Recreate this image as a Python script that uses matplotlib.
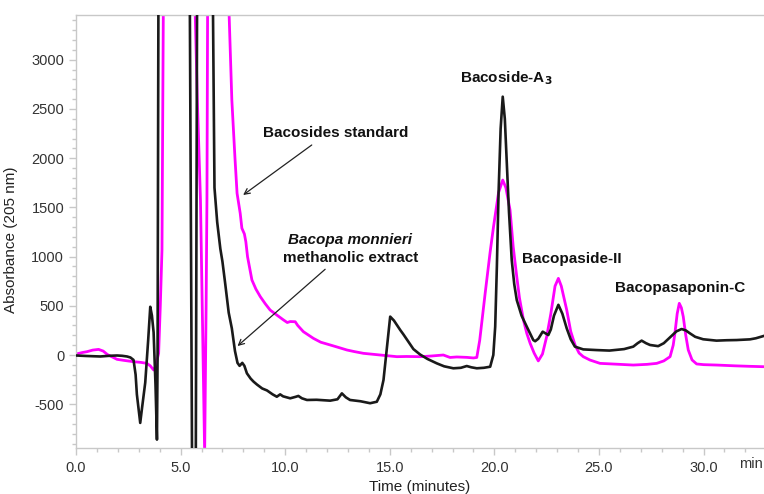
import matplotlib
matplotlib.use("Agg")
import matplotlib.pyplot as plt
from matplotlib.ticker import MultipleLocator, FormatStrFormatter

plt.rcParams['font.family'] = ['Liberation Sans', 'DejaVu Sans']
plt.rcParams['axes.unicode_minus'] = False

# Bacopa monnieri methanolic extract (black)
extract_t = [0.0, 0.5, 1.16, 1.6, 1.96, 2.2, 2.44, 2.6, 2.75, 2.85, 2.91, 3.0, 3.07, 3.15,
             3.31, 3.45, 3.55, 3.63, 3.71, 3.80, 3.87, 3.90, 3.95, 5.42, 5.56, 5.72, 5.80,
             6.50, 6.55, 6.62, 6.75, 6.9, 7.0, 7.13, 7.3, 7.45, 7.6, 7.72, 7.82, 7.95, 8.05,
             8.17, 8.35, 8.49, 8.65, 8.9, 9.13, 9.4, 9.6, 9.76, 9.9, 10.24, 10.5, 10.63, 10.8,
             11.04, 11.5, 12.15, 12.5, 12.71, 12.9, 13.1, 13.6, 14.06, 14.38, 14.55, 14.7,
             14.85, 15.02, 15.2, 15.5, 15.65, 16.13, 16.45, 16.8, 17.25, 17.6, 18.04, 18.4,
             18.68, 18.9, 19.16, 19.5, 19.8, 19.95, 20.04, 20.12, 20.2, 20.3, 20.4, 20.5,
             20.59, 20.7, 20.83, 20.95, 21.07, 21.3, 21.55, 21.86, 21.95, 22.1, 22.31, 22.45,
             22.58, 22.7, 22.85, 23.06, 23.25, 23.46, 23.65, 23.85, 24.25, 24.9, 25.5, 26.2,
             26.64, 26.85, 27.04, 27.25, 27.44, 27.83, 28.1, 28.4, 28.7, 28.95, 29.15, 29.35,
             29.6, 29.98, 30.62, 31.1, 31.58, 32.22, 32.5, 32.9]
extract_v = [-5, -10, -15, -8, -5, -8, -15, -25, -50, -200, -400, -560, -690, -550,
             -280, 150, 490, 400, 230, -300, -860, 0, 4500, 4500, -1600, -1600, 4500,
             4500, 3455, 1700, 1350, 1080, 950, 730, 430, 270, 40, -80, -110, -80, -110,
             -186, -240, -271, -300, -340, -360, -400, -424, -400, -420, -440, -425, -416, -440,
             -457, -455, -464, -450, -390, -430, -457, -470, -490, -475, -400, -254,
             50, 390, 350, 254, 210, 60, 5, -40, -85, -115, -135, -130,
             -112, -125, -135, -130, -119, 0, 288, 900, 1643, 2300, 2625, 2400,
             1982, 1450, 965, 720, 559, 400, 288, 152, 140, 165, 237, 220,
             203, 260, 400, 510, 420, 270, 160, 85, 57, 50, 45, 60,
             85, 120, 146, 120, 102, 90, 120, 180, 240, 264, 250, 220,
             185, 160, 146, 150, 152, 159, 170, 195]

# Bacosides standard (magenta)
standard_t = [0.0, 0.3, 0.53, 0.8, 1.08, 1.3, 1.5, 1.64, 1.96, 2.3, 2.75, 3.1, 3.39, 3.55,
              3.71, 3.8, 3.95, 4.03, 4.11, 4.2, 5.65, 5.70, 5.80, 5.95, 6.05, 6.15, 6.22,
              6.26, 6.29, 6.35, 7.25, 7.32, 7.45, 7.6, 7.7, 7.85, 7.93, 8.05, 8.12, 8.2,
              8.41, 8.6, 8.81, 9.05, 9.28, 9.6, 9.92, 10.1, 10.24, 10.48, 10.6, 10.87, 11.35,
              11.7, 12.15, 12.5, 12.95, 13.3, 13.74, 14.54, 15.34, 15.8, 16.45, 17.0, 17.56,
              17.88, 18.2, 18.68, 19.0, 19.16, 19.3, 19.56, 19.8, 19.96, 20.2, 20.4, 20.55,
              20.75, 20.9, 21.07, 21.2, 21.39, 21.55, 21.71, 21.9, 22.1, 22.3, 22.5, 22.7,
              22.9, 23.06, 23.2, 23.46, 23.65, 23.86, 24.05, 24.25, 24.57, 25.05, 25.53,
              26.64, 27.3, 27.76, 28.1, 28.4, 28.55, 28.63, 28.74, 28.84, 28.94, 29.03,
              29.15, 29.27, 29.45, 29.67, 30.0, 30.62, 31.5, 32.2, 32.9]
standard_v = [10, 25, 34, 50, 57, 40, 5, -10, -44, -55, -68, -75, -85, -110,
              -152, -120, 17, 500, 1067, 4500, 4500, 3455, 2600, 1575, 300, -1000, 500,
              1575, 3455, 4500, 4500, 3455, 2591, 2000, 1643, 1440, 1288, 1230, 1150, 999,
              762, 670, 593, 520, 457, 406, 356, 330, 340, 338, 300, 237, 169,
              130, 102, 80, 51, 35, 17, 0, -17, -15, -17, -10, 0,
              -25, -20, -24, -30, -25, 150, 627, 1050, 1304, 1650, 1778, 1700,
              1473, 1100, 796, 580, 356, 220, 119, 20, -60, 10, 186, 420,
              700, 779, 700, 457, 240, 100, 20, -17, -51, -85, -90,
              -102, -95, -85, -60, -17, 100, 220, 420, 525, 480, 390,
              200, 51, -50, -91, -98, -102, -110, -115, -119]

x_ticks = [0, 5, 10, 15, 20, 25, 30]
y_ticks = [-500, 0, 500, 1000, 1500, 2000, 2500, 3000]

fig = plt.figure(figsize=(7.64, 4.94), dpi=100)
ax = fig.add_axes([76 / 764, 46 / 494, 688 / 764, 433 / 494])

ax.plot(standard_t, standard_v, color='#ff00ff', lw=2.0, zorder=2)
ax.plot(extract_t, extract_v, color='#1a1a1a', lw=1.9, zorder=3)

ax.set_xlim(0, 32.89)
ax.set_ylim(-945, 3455)

spine_c = '#c8c8c8'
for s in ['left', 'bottom', 'top']:
    ax.spines[s].set_color(spine_c)
    ax.spines[s].set_linewidth(1.0)
ax.spines['right'].set_visible(False)

ax.set_xticks(x_ticks)
ax.xaxis.set_major_formatter(FormatStrFormatter('%.1f'))
ax.xaxis.set_minor_locator(MultipleLocator(1))
ax.set_yticks(y_ticks)
ax.yaxis.set_minor_locator(MultipleLocator(100))
ax.tick_params(which='both', direction='out', color=spine_c, labelsize=10.5,
               labelcolor='#333333', top=False, right=False)
ax.tick_params(which='major', length=5, width=1)
ax.tick_params(which='minor', length=3, width=1)
ax.tick_params(axis='x', pad=4)

ax.set_xlabel('Time (minutes)', fontsize=11, color='#222222', labelpad=4)
ax.set_ylabel('Absorbance (205 nm)', fontsize=11, color='#222222')
ax.yaxis.set_label_coords(-0.084, 0.48)

fig.text(763 / 764, 1 - 464 / 494, 'min', ha='right', va='center',
         fontsize=10.5, color='#333333')

bold = dict(fontsize=11, fontweight='bold', color='#111111', ha='center', va='center')
ax.text(20.55, 2815, r'Bacoside-A$_\mathbf{3}$', **bold)
ax.text(12.4, 2256, 'Bacosides standard', **bold)
ax.text(13.1, 1169, 'Bacopa monnieri', style='italic', **bold)
ax.text(13.15, 983, 'methanolic extract', **bold)
ax.text(23.7, 972, 'Bacopaside-II', **bold)
ax.text(28.87, 678, 'Bacopasaponin-C', **bold)

arrow = dict(arrowstyle='->', color='#222222', lw=0.9, shrinkA=0, shrinkB=0)
ax.annotate('', xy=(7.99, 1626), xytext=(11.27, 2134), arrowprops=arrow)
ax.annotate('', xy=(7.72, 91), xytext=(11.91, 871), arrowprops=arrow)

fig.savefig('out.png', dpi=100)
